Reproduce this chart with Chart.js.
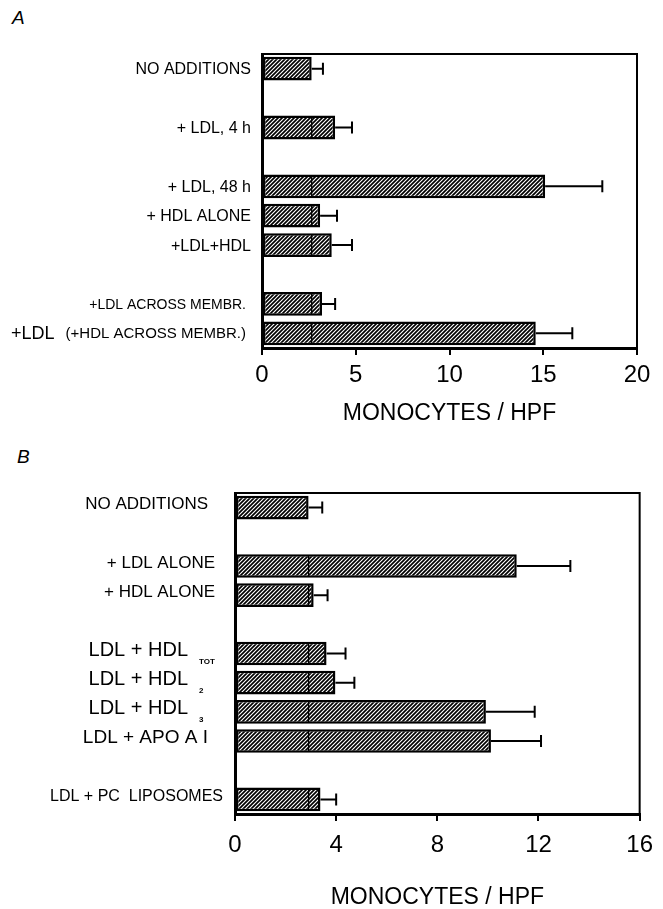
<!DOCTYPE html>
<html>
<head>
<meta charset="utf-8">
<script src="https://cdn.jsdelivr.net/npm/chart.js@4.4.1/dist/chart.umd.min.js"></script>
<style>
body { margin:0; background:#fff; width:663px; height:909px; position:relative; overflow:hidden; font-family:'Liberation Sans', Arial, sans-serif; }
.panel { position:absolute; left:0; }
.tag { position:absolute; font-style:italic; font-size:19px; line-height:19px; color:#000; }
</style>
</head>
<body>
<div class="tag" style="left:12px;top:8px">A</div>
<div class="tag" style="left:17px;top:447px">B</div>
<canvas id="chartA" class="panel" width="663" height="440" style="top:0"></canvas>
<canvas id="chartB" class="panel" width="663" height="469" style="top:440px"></canvas>
<script>
// panel A
var catsA  = ['NO ADDITIONS', '', '+ LDL, 4 h', '', '+ LDL, 48 h', '+ HDL ALONE', '+LDL+HDL', '', '+LDL ACROSS MEMBR.', '(+HDL ACROSS MEMBR.)'];
var preA   = ['', '', '', '', '', '', '', '', '', '+LDL'];
var meanA  = [2.65, null, 3.9, null, 15.1, 3.1, 3.72, null, 3.2, 14.6];
var errA   = [0.6, null, 0.9, null, 3.05, 0.9, 1.08, null, 0.7, 1.95];
var ticksA = [0, 5, 10, 15, 20];

// panel B
var catsB  = ['NO ADDITIONS', '', '+ LDL ALONE', '+ HDL ALONE', '', 'LDL + HDL', 'LDL + HDL', 'LDL + HDL', 'LDL + APO A I', '', 'LDL + PC  LIPOSOMES'];
var subB   = ['', '', '', '', '', 'TOT', '2', '3', '', '', ''];
var meanB  = [2.91, null, 11.14, 3.11, null, 3.62, 3.97, 9.92, 10.12, null, 3.38];
var errB   = [0.54, null, 2.12, 0.55, null, 0.75, 0.75, 1.93, 1.98, null, 0.62];
var ticksB = [0, 4, 8, 12, 16];

var xTitle = 'MONOCYTES / HPF';
var FONT = "'Liberation Sans', Arial, sans-serif";
Chart.defaults.font.family = FONT;

function hatch(chart) {
    if (chart.$hatch) return chart.$hatch;
    var c = document.createElement('canvas');
    c.width = 4; c.height = 4;
    var g = c.getContext('2d');
    g.fillStyle = '#fff';
    g.fillRect(0, 0, 4, 4);
    g.strokeStyle = '#000';
    g.lineWidth = 1.7;
    g.beginPath();
    g.moveTo(0, 4); g.lineTo(4, 0);
    g.moveTo(-1, 1); g.lineTo(1, -1);
    g.moveTo(3, 5); g.lineTo(5, 3);
    g.stroke();
    chart.$hatch = chart.ctx.createPattern(c, 'repeat');
    return chart.$hatch;
}

function panelPlugin(p) {
    return {
        id: 'panel',
        afterDatasetsDraw: function(chart) {
            var ctx = chart.ctx, xs = chart.scales.x;
            var bars = chart.getDatasetMeta(0).data;
            var base = p.means[0];
            ctx.save();
            ctx.strokeStyle = '#000';
            bars.forEach(function(bar, i) {
                var v = p.means[i];
                if (v == null) return;
                var h = bar.height / 2;
                //divider at the control level
                if (v > base + 0.05) {
                    var xb = xs.getPixelForValue(base);
                    ctx.lineWidth = 1.3;
                    ctx.beginPath();
                    ctx.moveTo(xb, bar.y - h + 1);
                    ctx.lineTo(xb, bar.y + h - 1);
                    ctx.stroke();
                }
                //error bar, upper side only
                var x0 = xs.getPixelForValue(v), x1 = xs.getPixelForValue(v + p.errs[i]);
                ctx.lineWidth = 2;
                ctx.beginPath();
                ctx.moveTo(x0, bar.y);
                ctx.lineTo(x1, bar.y);
                ctx.moveTo(x1, bar.y - 6);
                ctx.lineTo(x1, bar.y + 6);
                ctx.stroke();
            });
            ctx.restore();
        },
        afterDraw: function(chart) {
            var ctx = chart.ctx, a = chart.chartArea, ys = chart.scales.y;
            ctx.save();
            ctx.strokeStyle = '#000';
            ctx.lineWidth = 2;
            ctx.beginPath();
            ctx.moveTo(a.left, a.top);
            ctx.lineTo(a.right, a.top);
            ctx.lineTo(a.right, a.bottom);
            ctx.stroke();

            ctx.fillStyle = '#000';
            ctx.textBaseline = 'middle';
            p.cats.forEach(function(t, i) {
                if (!t) return;
                var y = ys.getPixelForValue(i) + p.dy;
                ctx.font = p.size(i) + 'px ' + FONT;
                ctx.textAlign = 'right';
                ctx.fillText(t, p.right(i), y);
                if (p.subs && p.subs[i]) {
                    ctx.font = 'bold 8px ' + FONT;
                    ctx.textAlign = 'left';
                    ctx.fillText(p.subs[i], p.right(i) + 11, y + 11);
                }
                if (p.pre && p.pre[i]) {
                    ctx.font = '18px ' + FONT;
                    ctx.textAlign = 'left';
                    ctx.fillText(p.pre[i], 11, y);
                }
            });
            ctx.restore();
        }
    };
}

function setChart(id, cats, means, ticks, box, plugin) {
    var ctx = document.getElementById(id).getContext('2d');
    return new Chart(ctx, {
        type: 'bar',
        data: {
            labels: cats,
            datasets: [{
                data: means,
                backgroundColor: function(c) { return hatch(c.chart); },
                borderColor: '#000',
                borderWidth: 2.5,
                borderSkipped: false,
                categoryPercentage: 1,
                barPercentage: 0.81
            }]
        },
        options: {
            indexAxis: 'y',
            responsive: false,
            animation: false,
            layout: { padding: { left: 0, top: box.top, right: box.right, bottom: 0 } },
            plugins: { legend: { display: false }, tooltip: { enabled: false } },
            scales: {
                x: {
                    min: ticks[0],
                    max: ticks[ticks.length - 1],
                    afterBuildTicks: function(s) { s.ticks = ticks.map(function(v) { return { value: v }; }); },
                    afterFit: function(s) { s.height = box.xh; },
                    grid: { drawOnChartArea: false, drawTicks: true, tickLength: 7, color: '#000', lineWidth: 2 },
                    border: { display: true, color: '#000', width: 3 },
                    ticks: { color: '#000', font: { size: 24 }, padding: box.tickPad, maxRotation: 0 },
                    title: { display: true, text: xTitle, color: '#000', font: { size: 23, lineHeight: 1 }, padding: { top: 0, bottom: box.titlePad } }
                },
                y: {
                    afterFit: function(s) { s.width = box.left; },
                    grid: { display: false, drawTicks: false },
                    border: { display: true, color: '#000', width: 3 },
                    ticks: { display: false }
                }
            }
        },
        plugins: [plugin]
    });
}

setChart('chartA', catsA, meanA, ticksA,
    { left: 262, top: 54, right: 26, xh: 92, tickPad: 6, titlePad: 15 },
    panelPlugin({
        cats: catsA, pre: preA, means: meanA, errs: errA, dy: 1,
        size: function(i) { return i == 8 ? 14 : (i == 9 ? 15 : 16); },
        right: function(i) { return i >= 8 ? 246 : 251; }
    }));

setChart('chartB', catsB, meanB, ticksB,
    { left: 235, top: 53, right: 22, xh: 95, tickPad: 10, titlePad: 0 },
    panelPlugin({
        cats: catsB, subs: subB, means: meanB, errs: errB, dy: -3,
        size: function(i) { return i >= 5 && i <= 7 ? 20 : (i == 8 ? 19 : (i == 10 ? 16 : 17)); },
        right: function(i) { return i >= 5 && i <= 7 ? 188 : (i == 10 ? 223 : (i == 2 || i == 3 ? 215 : 208)); }
    }));
</script>
</body>
</html>
